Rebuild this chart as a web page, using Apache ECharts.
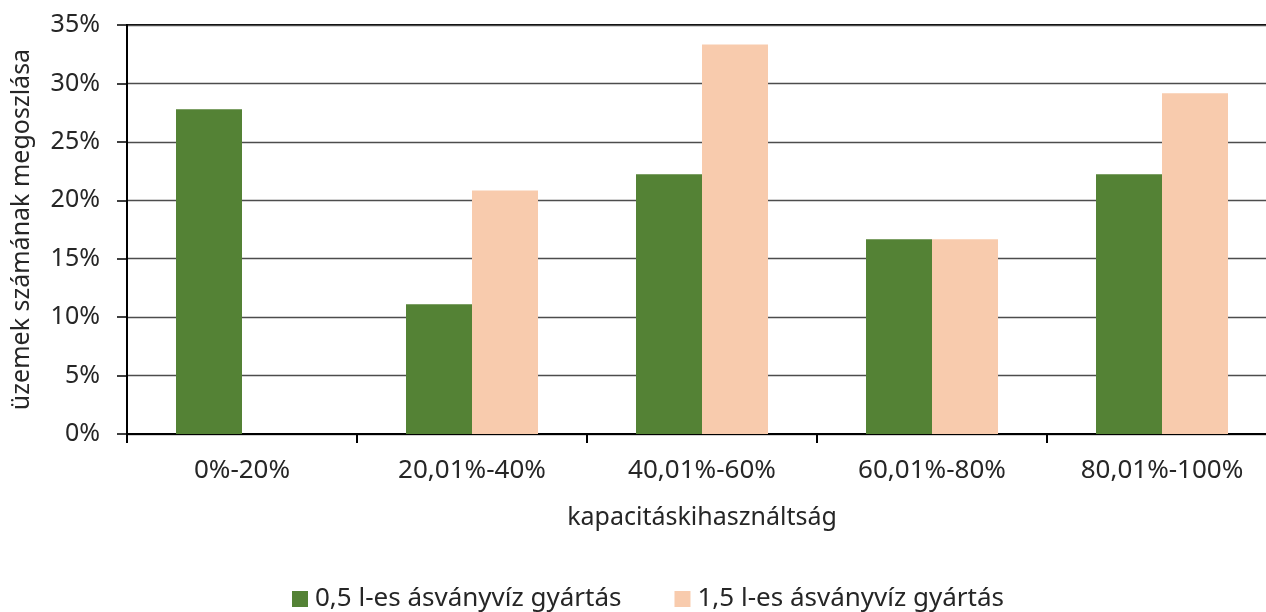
<!DOCTYPE html>
<html>
<head>
<meta charset="utf-8">
<script src="https://cdn.jsdelivr.net/npm/echarts@6/dist/echarts.min.js"></script>
<style>
  html, body { margin: 0; padding: 0; background: #fff; }
  #chart { width: 1266px; height: 612px; }
</style>
</head>
<body>
<div id="chart"></div>
<script>
// Capacity-utilisation bands
const categories = ['0%-20%', '20,01%-40%', '40,01%-60%', '60,01%-80%', '80,01%-100%'];
// Share of plants (%) per band
const seriesNames = ['0,5 l-es ásványvíz gyártás', '1,5 l-es ásványvíz gyártás'];
const smallBottle = [27.78, 11.11, 22.22, 16.67, 22.22];
const largeBottle = [0, 20.83, 33.33, 16.67, 29.17];
const yTicks = { min: 0, max: 35, interval: 5 };

const FONT = '"Noto Sans", sans-serif';
const TEXT = '#262626';

const chart = echarts.init(document.getElementById('chart'), null, { renderer: 'canvas' });
chart.setOption({
  animation: false,
  backgroundColor: '#ffffff',
  textStyle: { fontFamily: FONT, color: TEXT },
  grid: {
    left: 127, top: 25, right: -11, bottom: 178,
    outerBoundsMode: 'none',
    containLabel: false,
    show: true, borderColor: '#000', borderWidth: 2, backgroundColor: 'transparent'
  },
  legend: {
    left: 287, top: 581,
    itemWidth: 16, itemHeight: 16, itemGap: 53,
    icon: 'rect',
    textStyle: { fontFamily: FONT, fontSize: 26, color: TEXT, padding: [0, 0, 0, 2] },
    data: seriesNames
  },
  xAxis: {
    type: 'category',
    data: categories,
    name: 'kapacitáskihasználtság',
    nameLocation: 'middle',
    nameGap: 71,
    nameTextStyle: { fontFamily: FONT, fontSize: 25, color: TEXT },
    axisLine: { lineStyle: { color: '#000', width: 2 } },
    axisTick: { show: true, length: 9, lineStyle: { color: '#000', width: 2 } },
    axisLabel: { fontFamily: FONT, fontSize: 26, color: TEXT, margin: 24 },
    splitLine: { show: false }
  },
  yAxis: {
    type: 'value',
    min: yTicks.min, max: yTicks.max, interval: yTicks.interval,
    name: 'üzemek számának megoszlása',
    nameLocation: 'middle',
    nameRotate: 90,
    nameGap: 93,
    nameTextStyle: { fontFamily: FONT, fontSize: 25, color: TEXT },
    axisLine: { show: true, lineStyle: { color: '#000', width: 2 } },
    axisTick: { show: true, length: 10, lineStyle: { color: '#000', width: 1.5 } },
    axisLabel: { fontFamily: FONT, fontSize: 25, color: TEXT, margin: 27, formatter: '{value}%' },
    splitLine: { show: true, lineStyle: { color: '#4d4d4d', width: 1.4 } }
  },
  series: [
    {
      name: seriesNames[0], type: 'bar', data: smallBottle,
      barWidth: 66, barGap: '0%',
      itemStyle: { color: '#548235' }
    },
    {
      name: seriesNames[1], type: 'bar', data: largeBottle,
      barWidth: 66, barGap: '0%',
      itemStyle: { color: '#F8CBAD' }
    }
  ]
});
</script>
</body>
</html>
